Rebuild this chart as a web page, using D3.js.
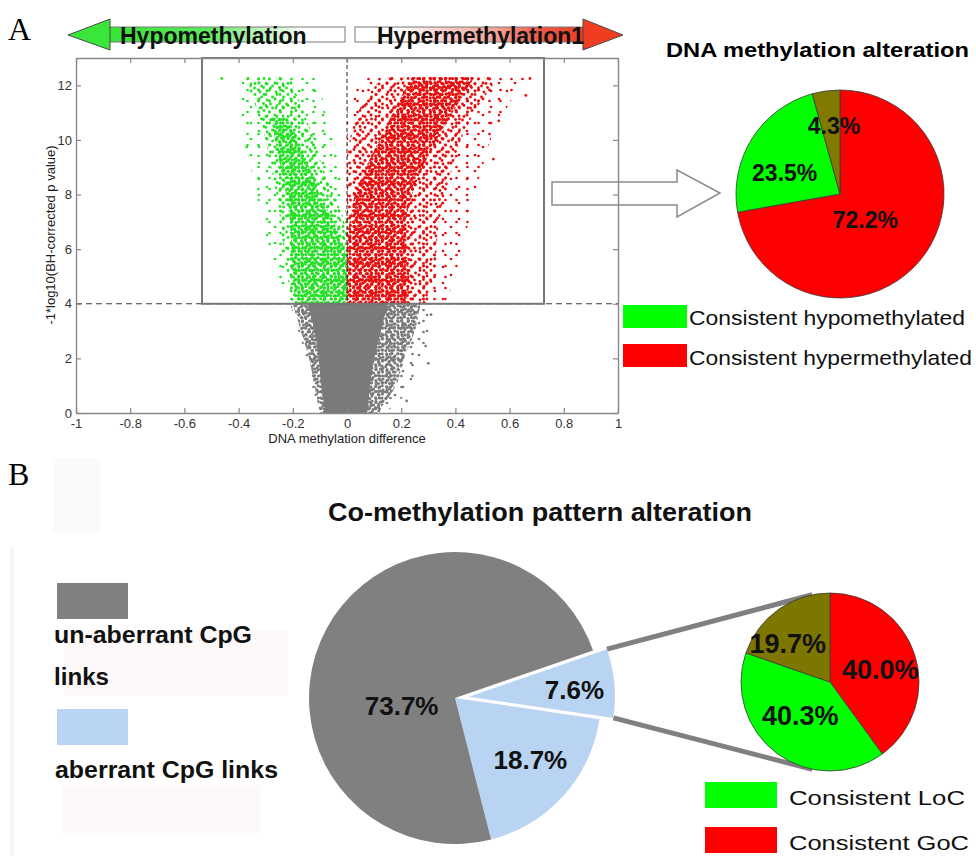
<!DOCTYPE html>
<html>
<head>
<meta charset="utf-8">
<script src="https://cdn.jsdelivr.net/npm/d3@7"></script>
<style>
  body { margin: 0; background: #fff; }
  svg { display: block; }
</style>
</head>
<body>
<svg id="fig" width="976" height="856"></svg>
<script>
// ---------------- data ----------------
// Volcano plot: axis ticks
const xTicks = [-1, -0.8, -0.6, -0.4, -0.2, 0, 0.2, 0.4, 0.6, 0.8, 1];
const xTickLabels = ["-1", "-0.8", "-0.6", "-0.4", "-0.2", "0", "0.2", "0.4", "0.6", "0.8", "1"];
const yTicks = [0, 2, 4, 6, 8, 10, 12];
const yTickLabels = ["0", "2", "4", "6", "8", "10", "12"];
const pThreshold = 4;                 // -log10 cut-off
const diffRange = [-0.535, 0.727];    // extent of the selection window

// Point clouds summarised as envelopes: [ -log10 p, lowest difference, highest difference ]
const hypoOuter = [[4.0,-0.215,0.0],[5.0,-0.255,0.0],[6.0,-0.285,0.0],[7.0,-0.31,0.0],[8.0,-0.335,-0.01],[9.0,-0.355,-0.03],[10.0,-0.375,-0.05],[11.0,-0.39,-0.08],[12.3,-0.40,-0.10]];
const hypoMid   = [[4.0,-0.2,0.0],[5.0,-0.22,0.0],[6.0,-0.235,0.0],[7.0,-0.245,-0.01],[8.0,-0.26,-0.05],[9.0,-0.28,-0.09],[10.0,-0.3,-0.12],[11.0,-0.33,-0.16],[12.3,-0.37,-0.21]];
const hypoCore  = [[4.0,-0.19,0.0],[5.0,-0.2,0.0],[6.0,-0.205,-0.01],[7.0,-0.21,-0.05],[8.0,-0.225,-0.10],[9.0,-0.245,-0.14],[10.0,-0.265,-0.18],[10.8,-0.28,-0.22]];
const hyperOuter = [[4.0,0.0,0.36],[5.0,0.0,0.40],[6.0,0.0,0.42],[7.0,0.0,0.45],[8.0,0.0,0.47],[9.0,0.0,0.50],[10.0,0.0,0.53],[11.0,0.0,0.58],[12.3,0.07,0.66]];
const hyperMid   = [[4.0,0.0,0.29],[5.0,0.0,0.32],[6.0,0.0,0.33],[7.0,0.0,0.34],[8.0,0.0,0.36],[9.0,0.0,0.39],[10.0,0.01,0.42],[11.0,0.04,0.47],[12.3,0.13,0.56]];
const hyperCore  = [[4.0,0.0,0.22],[5.0,0.0,0.23],[6.0,0.0,0.22],[7.0,0.01,0.22],[8.0,0.03,0.24],[9.0,0.07,0.28],[10.0,0.12,0.33],[11.0,0.17,0.39],[12.3,0.24,0.47]];
const nsOuter = [[0.0,-0.11,0.14],[0.5,-0.115,0.2],[1.0,-0.13,0.23],[2.0,-0.15,0.27],[3.0,-0.18,0.3],[4.0,-0.21,0.31]];
const nsMid   = [[0.0,-0.1,0.11],[1.0,-0.12,0.18],[2.0,-0.14,0.21],[3.0,-0.17,0.25],[4.0,-0.2,0.27]];
const nsCore  = [[0.0,-0.08,0.075],[1.0,-0.095,0.085],[2.0,-0.105,0.1],[3.0,-0.12,0.125],[4.0,-0.145,0.15]];
// Isolated points: [difference, -log10 p]
const hypoLone  = [[-0.462,12.25],[-0.37,9.74]];
const hyperLone = [[0.675,12.25],[0.66,11.63],[0.56,10.7],[0.54,9.3]];
const nsLone    = [[0.31,3.6],[0.29,2.45],[0.30,1.82],[0.22,0.44]];

// Pie: DNA methylation alteration
const alterNames  = ["Consistent hypermethylated", "Consistent hypomethylated", "Inconsistent"];
const alterValues = [72.2, 23.5, 4.3];

// Pie: co-methylation pattern alteration
const coNames  = ["aberrant CpG links (detailed)", "aberrant CpG links", "un-aberrant CpG links"];
const coValues = [7.6, 18.7, 73.7];

// Pie: breakdown of the detailed aberrant links
const linkNames  = ["Consistent GoC", "Consistent LoC", "Inconsistent"];
const linkValues = [40.0, 40.3, 19.7];

// ---------------- drawing ----------------
const FONT = '"Liberation Sans", Arial, Helvetica, sans-serif';
const SERIF = '"Liberation Serif", "Times New Roman", serif';
const svg = d3.select("#fig");
const defs = svg.append("defs");

function label(g, str, x, y, o) {
  o = o || {};
  const t = g.append("text").attr("x", x).attr("y", y).text(str)
    .attr("font-family", o.family || FONT)
    .attr("font-size", o.size || 14)
    .attr("font-weight", o.weight || "normal")
    .attr("fill", o.fill || "#000")
    .attr("text-anchor", o.anchor || "start");
  if (o.len) t.attr("textLength", o.len).attr("lengthAdjust", "spacingAndGlyphs");
  return t;
}

// faint scanning marks in the figure background
[[53,458,47,75,"#fafafa"],[10,548,4,308,"#f6f6f6"],[64,630,224,66,"#fdf9f9"],[62,785,198,48,"#fdf9f9"]]
  .forEach(r => svg.append("rect").attr("x", r[0]).attr("y", r[1]).attr("width", r[2]).attr("height", r[3]).attr("fill", r[4]));

// panel letters
label(svg, "A", 8, 40, {family: SERIF, size: 32});
label(svg, "B", 8, 485, {family: SERIF, size: 32});

// ----- direction arrows above the volcano plot -----
const gGreen = defs.append("linearGradient").attr("id", "gHypo").attr("x1", 0).attr("x2", 1).attr("y1", 0).attr("y2", 0);
[[0,"#35e535"],[0.42,"#5eea5e"],[0.62,"#b5f3b5"],[0.78,"#e8fbe8"],[0.8,"#ffffff"],[1,"#ffffff"]]
  .forEach(s => gGreen.append("stop").attr("offset", s[0]).attr("stop-color", s[1]));
const gRed = defs.append("linearGradient").attr("id", "gHyper").attr("x1", 0).attr("x2", 1).attr("y1", 0).attr("y2", 0);
[[0,"#ffffff"],[0.18,"#ffffff"],[0.38,"#fad0cb"],[0.62,"#f4a096"],[0.8,"#f05a45"],[1,"#ee3b22"]]
  .forEach(s => gRed.append("stop").attr("offset", s[0]).attr("stop-color", s[1]));

const arrows = svg.append("g");
arrows.append("rect").attr("x", 108).attr("y", 27).attr("width", 237).attr("height", 15)
  .attr("fill", "url(#gHypo)").attr("stroke", "#7a7a7a").attr("stroke-width", 1);
arrows.append("path").attr("d", "M68,35 L110,19 L110,50 Z")
  .attr("fill", "#3ae63a").attr("stroke", "#4a4a4a").attr("stroke-width", 1);
label(arrows, "Hypomethylation", 120, 43.5, {size: 23, weight: "bold", fill: "#111"});

arrows.append("rect").attr("x", 355).attr("y", 27).attr("width", 230).attr("height", 15)
  .attr("fill", "url(#gHyper)").attr("stroke", "#7a7a7a").attr("stroke-width", 1);
arrows.append("path").attr("d", "M583,19 L623,35 L583,50 Z")
  .attr("fill", "#f03d22").attr("stroke", "#4a4a4a").attr("stroke-width", 1);
label(arrows, "Hypermethylation1", 377, 43.5, {size: 23, weight: "bold", fill: "#111"});

// ----- volcano plot -----
const x = d3.scaleLinear().domain([-1, 1]).range([76, 618]);
const y = d3.scaleLinear().domain([0, 13]).range([413, 58]);

defs.append("clipPath").attr("id", "plotClip").append("rect")
  .attr("x", x(-1)).attr("y", y(13)).attr("width", x(1) - x(-1)).attr("height", y(0) - y(13));

// dotted textures for the point clouds; two tiles of different period are
// layered so the speckle does not read as a regular grid
const spotsA = [[3,3],[11,11],[11,4],[4,12],[7.5,7.5],[14.5,8],[8,14.5],[1.5,8],[8,1.5],[14,14],[14.2,1.8],[1.8,14.5],[5.5,5],[10.5,7.5],[5,9.5],[3,5.8]];
const spotsB = [[5.5,2],[2,6.5],[8.5,9],[9,5],[4.5,9.5],[1.6,1.8],[6.5,6]];
function dotPattern(id, color, spots, tile, n, r) {
  const p = defs.append("pattern").attr("id", id).attr("patternUnits", "userSpaceOnUse")
    .attr("width", tile).attr("height", tile);
  spots.slice(0, n).forEach(s => p.append("circle").attr("cx", s[0]).attr("cy", s[1]).attr("r", r).attr("fill", color));
}
const cHypo = "#22e022", cHyper = "#e80c0c", cNs = "#7a7a7a";
const levels = {S: [2, 1, 1.35], M: [7, 3, 1.4], D: [16, 7, 1.55]};
[["hypo", cHypo], ["hyper", cHyper], ["ns", cNs]].forEach(c => {
  Object.entries(levels).forEach(([k, v]) => {
    dotPattern(c[0] + k + "a", c[1], spotsA, 16, v[0], v[2]);
    dotPattern(c[0] + k + "b", c[1], spotsB, 11, v[1], v[2]);
  });
});

const band = d3.area().curve(d3.curveMonotoneY)
  .y(d => y(d[0])).x0(d => x(d[1])).x1(d => x(d[2]));

const clouds = svg.append("g").attr("clip-path", "url(#plotClip)");
function drawBand(data, key) {
  clouds.append("path").datum(data).attr("d", band).attr("fill", `url(#${key}a)`);
  clouds.append("path").datum(data).attr("d", band).attr("fill", `url(#${key}b)`);
}
drawBand(nsOuter, "nsS"); drawBand(nsMid, "nsD");
clouds.append("path").datum(nsCore).attr("d", band).attr("fill", cNs);
drawBand(hypoOuter, "hypoS"); drawBand(hypoMid, "hypoM"); drawBand(hypoCore, "hypoD");
drawBand(hyperOuter, "hyperS"); drawBand(hyperMid, "hyperM"); drawBand(hyperCore, "hyperD");
[[hypoLone,cHypo],[hyperLone,cHyper],[nsLone,cNs]].forEach(set =>
  clouds.selectAll(null).data(set[0]).join("circle")
    .attr("cx", d => x(d[0])).attr("cy", d => y(d[1])).attr("r", 1.4).attr("fill", set[1]));

// threshold line and zero line
svg.append("line").attr("x1", x(-1)).attr("x2", x(1)).attr("y1", y(pThreshold)).attr("y2", y(pThreshold))
  .attr("stroke", "#3a3a3a").attr("stroke-width", 1.2).attr("stroke-dasharray", "6,4");
svg.append("line").attr("x1", x(0)).attr("x2", x(0)).attr("y1", y(13)).attr("y2", y(pThreshold))
  .attr("stroke", "#222").attr("stroke-width", 1).attr("stroke-dasharray", "4,3");

// selection window
svg.append("rect").attr("x", x(diffRange[0])).attr("y", y(13))
  .attr("width", x(diffRange[1]) - x(diffRange[0])).attr("height", y(pThreshold) - y(13))
  .attr("fill", "none").attr("stroke", "#777").attr("stroke-width", 2);

// axes
function styleAxis(g) {
  g.selectAll("path.domain").attr("stroke", "#888").attr("stroke-width", 1.4);
  g.selectAll(".tick line").attr("stroke", "#888").attr("stroke-width", 1.2);
  g.selectAll(".tick text").attr("font-family", FONT).attr("font-size", 13).attr("fill", "#333");
}
svg.append("g").attr("transform", `translate(0,${y(0)})`)
  .call(d3.axisBottom(x).tickValues(xTicks).tickSize(-5).tickSizeOuter(0).tickPadding(5.5)
    .tickFormat((d, i) => xTickLabels[i])).call(styleAxis);
svg.append("g").attr("transform", `translate(0,${y(13)})`)
  .call(d3.axisTop(x).tickValues(xTicks).tickSize(-5).tickSizeOuter(0).tickFormat("")).call(styleAxis);
svg.append("g").attr("transform", `translate(${x(-1)},0)`)
  .call(d3.axisLeft(y).tickValues(yTicks).tickSize(-5).tickSizeOuter(0).tickPadding(4)
    .tickFormat((d, i) => yTickLabels[i])).call(styleAxis);
svg.append("g").attr("transform", `translate(${x(1)},0)`)
  .call(d3.axisRight(y).tickValues(yTicks).tickSize(-5).tickSizeOuter(0).tickFormat("")).call(styleAxis);

label(svg, "DNA methylation difference", x(0), 443, {size: 13, anchor: "middle", fill: "#222"});
label(svg.append("g").attr("transform", "translate(55,235) rotate(-90)"),
  "-1*log10(BH-corrected p value)", 0, 0, {size: 13, anchor: "middle", fill: "#222"});

// hollow pointer towards the summary pie
svg.append("path").attr("d", "M552,182 L677,182 L677,170 L720,193 L677,217 L677,205 L552,205 Z")
  .attr("fill", "none").attr("stroke", "#8a8a8a").attr("stroke-width", 1.5);

// ----- pie: DNA methylation alteration -----
const alterColors = ["#ff0000", "#00ff00", "#807a00"];
label(svg, "DNA methylation alteration", 666, 57, {size: 21, weight: "bold", len: 303});
const rA = 104;
const gA = svg.append("g").attr("transform", "translate(840,194)");
const arcsA = d3.pie().sort(null)(alterValues);
gA.selectAll("path").data(arcsA).join("path")
  .attr("d", d3.arc().innerRadius(0).outerRadius(rA))
  .attr("fill", (d, i) => alterColors[i]).attr("stroke", "#3a3a3a").attr("stroke-width", 0.8);
const placeA = [[136, 0.35], [291, 0.57], [355, 0.66]];   // [angle deg, radius fraction]
arcsA.forEach((d, i) => {
  const a = placeA[i][0] * Math.PI / 180, rr = placeA[i][1] * rA;
  label(gA, d.value.toFixed(1) + "%", rr * Math.sin(a), -rr * Math.cos(a) + 8, {size: 23, weight: "bold", anchor: "middle", fill: "#111"});
});
// legend
svg.append("rect").attr("x", 623).attr("y", 305).attr("width", 64).attr("height", 23).attr("fill", alterColors[1]);
svg.append("rect").attr("x", 623).attr("y", 344).attr("width", 64).attr("height", 23).attr("fill", alterColors[0]);
label(svg, alterNames[1], 689, 325, {size: 21, len: 276, fill: "#111"});
label(svg, alterNames[0], 689, 365, {size: 21, len: 283, fill: "#111"});

// ----- pie: co-methylation pattern alteration -----
label(svg, "Co-methylation pattern alteration", 328, 521, {size: 25, weight: "bold", len: 424, fill: "#111"});
const coColors = ["#b8d4f2", "#b8d4f2", "#808080"];
const rB = 146, cB = [455, 698];
const start = 71 * Math.PI / 180;
const arcsB = d3.pie().sort(null).startAngle(start).endAngle(start + 2 * Math.PI)(coValues);
const arcB = d3.arc().innerRadius(0).outerRadius(rB);
const explode = 14;
const gB = svg.append("g").attr("transform", `translate(${cB[0]},${cB[1]})`);
function shift(d, k) {
  const m = (d.startAngle + d.endAngle) / 2;
  return k === 0 ? [explode * Math.sin(m), -explode * Math.cos(m)] : [0, 0];
}
gB.selectAll("path").data(arcsB).join("path")
  .attr("d", arcB)
  .attr("transform", (d, i) => `translate(${shift(d, i)})`)
  .attr("fill", (d, i) => coColors[i]);
const placeB = [[86, 0.82], [129.6, 0.67], [261.4, 0.37]];
arcsB.forEach((d, i) => {
  const a = placeB[i][0] * Math.PI / 180, rr = placeB[i][1] * rB;
  label(gB, d.value.toFixed(1) + "%", rr * Math.sin(a), -rr * Math.cos(a) + 9, {size: 26, weight: "bold", anchor: "middle", fill: "#111"});
});

// detail pie for the separated slice
const rC = 89, cC = [830, 682];
const ex = arcsB[0], off = shift(ex, 0);
const corner = a => [cB[0] + off[0] + rB * Math.sin(a), cB[1] + off[1] - rB * Math.cos(a)];
const onC = deg => { const a = deg * Math.PI / 180; return [cC[0] + rC * Math.sin(a), cC[1] - rC * Math.cos(a)]; };
[[corner(ex.startAngle), onC(-11.5)], [corner(ex.endAngle), onC(191.5)]].forEach(seg =>
  svg.append("line").attr("x1", seg[0][0]).attr("y1", seg[0][1]).attr("x2", seg[1][0]).attr("y2", seg[1][1])
    .attr("stroke", "#808080").attr("stroke-width", 5));

const linkColors = ["#ff0000", "#00ff00", "#7d7700"];
const gC = svg.append("g").attr("transform", `translate(${cC[0]},${cC[1]})`);
const arcsC = d3.pie().sort(null)(linkValues);
gC.selectAll("path").data(arcsC).join("path")
  .attr("d", d3.arc().innerRadius(0).outerRadius(rC))
  .attr("fill", (d, i) => linkColors[i]).attr("stroke", "#3a3a3a").attr("stroke-width", 0.8);
const placeC = [[76.5, 0.58], [222, 0.5], [312, 0.64]];
arcsC.forEach((d, i) => {
  const a = placeC[i][0] * Math.PI / 180, rr = placeC[i][1] * rC;
  label(gC, d.value.toFixed(1) + "%", rr * Math.sin(a), -rr * Math.cos(a) + 9.5, {size: 27, weight: "bold", anchor: "middle", fill: "#111"});
});

// legends of panel B
svg.append("rect").attr("x", 57).attr("y", 583).attr("width", 71).attr("height", 36).attr("fill", coColors[2]);
label(svg, "un-aberrant CpG", 54, 643, {size: 23, weight: "bold", len: 198, fill: "#111"});
label(svg, "links", 54, 685, {size: 23, weight: "bold", len: 55, fill: "#111"});
svg.append("rect").attr("x", 57).attr("y", 709).attr("width", 71).attr("height", 36).attr("fill", coColors[1]);
label(svg, "aberrant CpG links", 55, 778, {size: 23, weight: "bold", len: 223, fill: "#111"});

svg.append("rect").attr("x", 705).attr("y", 782).attr("width", 72).attr("height", 26).attr("fill", linkColors[1]);
label(svg, linkNames[1], 789, 805, {size: 21, len: 176, fill: "#111"});
svg.append("rect").attr("x", 705).attr("y", 827).attr("width", 72).attr("height", 26).attr("fill", linkColors[0]);
label(svg, linkNames[0], 789, 850, {size: 21, len: 180, fill: "#111"});
</script>
</body>
</html>
